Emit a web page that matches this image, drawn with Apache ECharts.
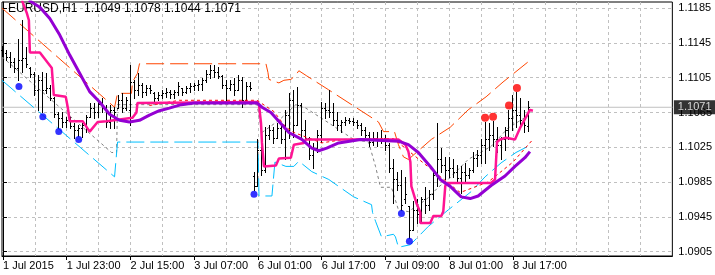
<!DOCTYPE html>
<html>
<head>
<meta charset="utf-8">
<title>EURUSD H1</title>
<script src="https://cdn.jsdelivr.net/npm/echarts@6/dist/echarts.min.js"></script>
<style>
  html, body { margin: 0; padding: 0; background: #fff; }
  #chart { width: 715px; height: 275px; }
</style>
</head>
<body>
<div id="chart"></div>
<script>
// bar data, one entry per H1 bar (index 0 = 1 Jul 07:00)
const opens = [
  1.1137,1.1133,1.1129,1.1123,1.1116,1.1125,1.1128,1.1116,1.1109,1.1091,
  1.1102,1.1091,1.1093,1.1082,1.1063,1.1059,1.1054,1.1056,1.1050,1.1045,
  1.1047,1.1051,1.1060,1.1070,1.1066,1.1075,1.1070,1.1054,1.1068,1.1070,
  1.1079,1.1070,1.1068,1.1100,1.1091,1.1097,1.1089,1.1093,1.1087,1.1082,
  1.1085,1.1087,1.1089,1.1086,1.1089,1.1093,1.1089,1.1093,1.1095,1.1097,
  1.1098,1.1102,1.1109,1.1114,1.1111,1.1107,1.1097,1.1093,1.1098,1.1091,
  1.1102,1.1079,1.1095,1.0992,1.0981,1.1022,1.0999,1.1039,1.1045,1.1036,
  1.1047,1.1034,1.1062,1.1079,1.1051,1.1074,1.1045,1.1036,1.1016,1.1024,
  1.1039,1.1070,1.1068,1.1066,1.1056,1.1051,1.1054,1.1056,1.1055,1.1054,
  1.1051,1.1045,1.1039,1.1031,1.1036,1.1034,1.1036,1.1028,1.1001,1.0988,
  1.0982,1.0965,1.0957,1.0930,1.0953,1.0948,1.0965,1.0959,1.0971,1.0993,
  1.1011,1.1005,1.0999,1.1001,1.0997,1.0990,1.0997,1.0993,1.0999,1.1013,
  1.1016,1.1028,1.1034,1.1039,1.1034,1.1028,1.1034,1.1045,1.1059,1.1068,
  1.1062,1.1056,1.1049
];
const highs = [
  1.1141,1.1137,1.1134,1.1128,1.1150,1.1171,1.1140,1.1117,1.1111,1.1108,
  1.1111,1.1110,1.1097,1.1083,1.1066,1.1065,1.1060,1.1060,1.1053,1.1051,
  1.1053,1.1062,1.1076,1.1076,1.1079,1.1082,1.1074,1.1074,1.1071,1.1085,
  1.1087,1.1083,1.1120,1.1102,1.1110,1.1099,1.1097,1.1097,1.1089,1.1089,
  1.1091,1.1093,1.1091,1.1091,1.1100,1.1093,1.1095,1.1099,1.1099,1.1102,
  1.1105,1.1114,1.1120,1.1120,1.1117,1.1108,1.1102,1.1102,1.1105,1.1108,
  1.1106,1.1100,1.1100,1.0996,1.1034,1.1034,1.1048,1.1051,1.1048,1.1053,
  1.1053,1.1068,1.1087,1.1091,1.1094,1.1076,1.1056,1.1037,1.1030,1.1045,
  1.1077,1.1076,1.1091,1.1076,1.1066,1.1056,1.1060,1.1059,1.1059,1.1056,
  1.1053,1.1048,1.1043,1.1042,1.1042,1.1045,1.1039,1.1030,1.1011,1.0997,
  1.0999,1.0991,1.0957,1.0963,1.0965,1.0968,1.0979,1.0976,1.0999,1.1053,
  1.1024,1.1014,1.1014,1.1011,1.1005,1.1003,1.1007,1.1001,1.1019,1.1022,
  1.1034,1.1054,1.1053,1.1055,1.1048,1.1037,1.1048,1.1068,1.1085,1.1089,
  1.1082,1.1068,1.1078
];
const lows = [
  1.1130,1.1125,1.1117,1.1111,1.1102,1.1111,1.1117,1.1106,1.1085,1.1068,
  1.1066,1.1087,1.1079,1.1060,1.1047,1.1048,1.1048,1.1047,1.1036,1.1038,
  1.1037,1.1043,1.1060,1.1059,1.1060,1.1066,1.1048,1.1047,1.1047,1.1070,
  1.1065,1.1068,1.1051,1.1082,1.1085,1.1083,1.1085,1.1087,1.1077,1.1079,
  1.1082,1.1083,1.1082,1.1082,1.1085,1.1085,1.1087,1.1089,1.1091,1.1091,
  1.1091,1.1100,1.1105,1.1106,1.1105,1.1093,1.1079,1.1091,1.1085,1.1091,
  1.1071,1.1079,1.1091,1.0976,1.0980,1.0993,1.0996,1.1034,1.1030,1.1036,
  1.1030,1.1011,1.1036,1.1037,1.1051,1.1037,1.1031,1.1011,1.1001,1.1019,
  1.1031,1.1059,1.1060,1.1051,1.1045,1.1043,1.1051,1.1053,1.1051,1.1047,
  1.1039,1.1037,1.1026,1.1028,1.1026,1.1030,1.1022,1.0997,1.0961,1.0976,
  1.0953,1.0961,1.0921,1.0930,1.0938,1.0940,1.0950,1.0953,1.0965,1.0980,
  1.0996,1.0988,1.0991,1.0991,1.0984,1.0973,1.0985,1.0990,1.0996,1.1003,
  1.1007,1.1007,1.1022,1.1026,1.1019,1.1011,1.1022,1.1034,1.1045,1.1048,
  1.1051,1.1042,1.1044
];
const closes = [
  1.1133,1.1129,1.1123,1.1116,1.1125,1.1128,1.1121,1.1109,1.1091,1.1102,
  1.1091,1.1093,1.1082,1.1063,1.1059,1.1054,1.1056,1.1050,1.1045,1.1047,
  1.1051,1.1060,1.1070,1.1066,1.1075,1.1070,1.1054,1.1068,1.1066,1.1079,
  1.1070,1.1079,1.1100,1.1091,1.1097,1.1089,1.1093,1.1091,1.1082,1.1085,
  1.1087,1.1089,1.1086,1.1089,1.1095,1.1089,1.1093,1.1095,1.1097,1.1098,
  1.1102,1.1109,1.1114,1.1111,1.1107,1.1097,1.1093,1.1098,1.1091,1.1102,
  1.1079,1.1095,1.1093,1.0981,1.1022,1.0999,1.1039,1.1045,1.1036,1.1047,
  1.1034,1.1062,1.1079,1.1051,1.1074,1.1045,1.1036,1.1016,1.1024,1.1039,
  1.1070,1.1068,1.1066,1.1056,1.1051,1.1054,1.1056,1.1055,1.1054,1.1051,
  1.1045,1.1039,1.1031,1.1036,1.1034,1.1036,1.1028,1.1001,1.0988,1.0982,
  1.0959,1.0971,1.0930,1.0953,1.0948,1.0965,1.0959,1.0971,1.0993,1.1011,
  1.1005,1.0999,1.1001,1.0997,1.0990,1.0997,1.0993,1.0999,1.1013,1.1016,
  1.1028,1.1034,1.1039,1.1034,1.1028,1.1034,1.1045,1.1059,1.1068,1.1062,
  1.1056,1.1051,1.1071
];

// indicator lines: [bar index, price]
const purpleLine = [[6.5,1.1194],[9.25,1.1186],[11.75,1.1173],[14.25,1.1154],[16.75,1.1131],[19.25,1.1110],
  [21.75,1.1089],[24.25,1.1077],[26.75,1.1063],[29.25,1.1056],[31.75,1.1054],[34.25,1.1056],[36.75,1.1062],
  [39.25,1.1067],[41.75,1.1070],[44.75,1.1074],[48,1.1076],[63.75,1.1076],[65,1.1071],[67.25,1.1065],
  [71.75,1.1042],[75,1.1034],[77.5,1.1024],[79.25,1.1021],[81.25,1.1024],[84.25,1.1030],[89.75,1.1034],
  [99.25,1.1032],[101.75,1.1028],[104.25,1.1019],[107.25,1.1003],[109.75,1.0988],[112.25,1.0980],[115,1.0968],
  [117.25,1.0966],[119.25,1.0969],[122.5,1.0981],[126,1.0992],[128.5,1.1003],[131,1.1013],[132.25,1.1020]];
const magentaLine = [[4.75,1.1194],[6,1.1179],[6.5,1.1171],[6.75,1.1134],[9.25,1.1134],[12.25,1.1116],
  [12.75,1.1085],[15.75,1.1083],[16.25,1.1071],[16.75,1.1055],[20,1.1055],[21.75,1.1043],[23.75,1.1054],
  [26,1.1055],[32.5,1.1059],[33.5,1.1065],[33.75,1.1076],[34.25,1.1077],[63.75,1.1077],[64.25,1.1074],
  [64.75,1.1053],[65,1.1030],[65.5,1.1003],[68.5,1.1004],[69.25,1.1012],[72.25,1.1013],[73,1.1028],
  [75.5,1.1030],[76,1.1034],[99.25,1.1034],[101,1.1028],[101.75,1.1020],[102.25,1.1008],[102.5,1.0980],
  [103.75,1.0961],[104.75,1.0950],[104.75,1.0938],[107.25,1.0938],[108,1.0946],[110,1.0946],[110.5,1.0951],
  [111,1.0980],[111.25,1.0984],[122.5,1.0984],[123.5,1.0988],[124,1.1031],[124.75,1.1034],[126.25,1.1036],
  [128.5,1.1034],[129.75,1.1047],[132.25,1.1068],[133,1.1067]];
const upperLine = [[-0.25,1.1185],[28,1.1071],[28.75,1.1087],[32.25,1.1087],[32.5,1.1100],[33.75,1.1110],
  [34.25,1.1121],[66,1.1121],[66.5,1.1111],[66.75,1.1103],[69.25,1.1099],[70.5,1.1102],[72.25,1.1103],
  [73.5,1.1108],[74.25,1.1113],[76.25,1.1107],[81.75,1.1091],[88.5,1.1071],[94.25,1.1054],[95.5,1.1043],
  [98.25,1.1043],[99.25,1.1028],[100.5,1.1014],[101.75,1.1011],[103,1.1016],[107.5,1.1034],[112.25,1.1048],
  [116.75,1.1068],[121.25,1.1083],[125.5,1.1100],[131.75,1.1123]];
const lowerLine = [[-0.25,1.1102],[28,1.0991],[28.5,1.0991],[28.75,1.1031],[64,1.1031],[64.25,1.0969],
  [67.5,1.0969],[68.25,1.1008],[71,1.1003],[73,1.1003],[74.25,1.1009],[77.5,1.0997],[81.75,1.0988],
  [88,1.0968],[92.5,1.0959],[92.75,1.0950],[93.5,1.0940],[95,1.0922],[98,1.0925],[98.5,1.0922],
  [99.25,1.0910],[102.25,1.0913],[106.75,1.0934],[111.75,1.0953],[117.5,1.0974],[121,1.0991],[125,1.1007],
  [128.75,1.1019],[131.75,1.1026]];
const grayLine = [[-0.25,1.1129],[27.25,1.1019],[28.5,1.1019],[28.75,1.1074],[63.75,1.1074],[65,1.1042],
  [69.25,1.1056],[73.5,1.1074],[76,1.1070],[81.75,1.1053],[88,1.1034],[91.75,1.1031],[93.5,1.1003],
  [94.75,1.0979],[97.5,1.0979],[99.25,1.0953],[101.75,1.0951],[106.25,1.0965],[109.25,1.0979],
  [111.75,1.0988],[116.75,1.1011],[122.5,1.1026],[126.75,1.1047],[132,1.1062]];
const redLine = [[36.75,1.1073],[44.25,1.1079],[63.75,1.1079],[68,1.1066],[71,1.1048],[73,1.1042],
  [80,1.1030],[85.5,1.1034],[98,1.1035],[109.25,1.0993],[114.75,1.0973],[121.75,1.0985],[128,1.1008],[133,1.1034]];

const downFractals = [[4,1.1095],[10,1.1060],[14,1.1043],[19,1.1034],[63,1.0971],[100,1.0949],[102,1.0917]];
const upFractals = [[121,1.1059],[123,1.1060],[127,1.1073],[129,1.1093]];

const tickLabels = ['1 Jul 2015','1 Jul 23:00','2 Jul 15:00','3 Jul 07:00','6 Jul 01:00',
  '6 Jul 17:00','7 Jul 09:00','8 Jul 01:00','8 Jul 17:00'];
const labelSlots = [0,16,32,48,64,80,96,112,128];
const gridSlots = [0,8,16,24,32,40,48,56,64,72,80,88,96,104,112,120,128,136,144,152,160];
const priceTicks = [1.0905,1.0945,1.0985,1.1025,1.1065,1.1105,1.1145,1.1185];
const lastPrice = 1.1071;
const titleText = 'EURUSD,H1  1.1049 1.1078 1.1044 1.1071';

const X_MIN = -0.25, X_MAX = 168;
const FONT = "'Liberation Sans Narrow', 'Liberation Sans', Arial, sans-serif";

const chart = echarts.init(document.getElementById('chart'), null, { renderer: 'canvas' });

// MT4 style OHLC bar: high-low stick, open tick left, close tick right
function renderBar(params, api) {
  const i = api.value(0);
  const pO = api.coord([i, api.value(1)]);
  const pH = api.coord([i, api.value(2)]);
  const pL = api.coord([i, api.value(3)]);
  const pC = api.coord([i, api.value(4)]);
  const x = Math.round(pH[0] - 0.5) + 0.5;
  const yo = Math.round(pO[1]) + 0.5;
  const yc = Math.round(pC[1]) + 0.5;
  const st = { stroke: '#000', lineWidth: 1 };
  return {
    type: 'group',
    children: [
      { type: 'line', shape: { x1: x, y1: Math.round(pH[1]), x2: x, y2: Math.round(pL[1]) + 1 }, style: st },
      { type: 'line', shape: { x1: x - 1.5, y1: yo, x2: x, y2: yo }, style: st },
      { type: 'line', shape: { x1: x, y1: yc, x2: x + 1.5, y2: yc }, style: st }
    ]
  };
}

function lineSeries(data, color, width, type, z) {
  return {
    type: 'line',
    data: data,
    showSymbol: false,
    symbol: 'none',
    silent: true,
    clip: true,
    z: z,
    lineStyle: { color: color, width: width, type: type }
  };
}

const option = {
  animation: false,
  backgroundColor: '#ffffff',
  textStyle: { fontFamily: FONT },
  title: {
    text: titleText,
    left: 8,
    top: 3,
    padding: 0,
    z: 0,
    textStyle: { fontSize: 12, fontWeight: 'normal', color: '#000', fontFamily: FONT }
  },
  grid: { left: 2, right: 40, top: 2, bottom: 19, show: true, borderColor: '#000', borderWidth: 1 },
  xAxis: [
    {
      type: 'value', min: X_MIN, max: X_MAX, position: 'bottom',
      axisLine: { show: true, lineStyle: { color: '#000' } },
      axisTick: { show: true, length: 4, customValues: labelSlots, lineStyle: { color: '#000' } },
      axisLabel: {
        customValues: labelSlots,
        formatter: v => tickLabels[labelSlots.indexOf(Math.round(v))] || '',
        align: 'left', margin: 4, fontSize: 11, color: '#000', fontFamily: FONT
      },
      splitLine: { show: false }
    },
    {
      type: 'value', min: X_MIN, max: X_MAX, position: 'bottom',
      axisLine: { show: false },
      axisTick: { show: false, customValues: gridSlots },
      axisLabel: { show: false },
      splitLine: { show: true, lineStyle: { color: '#c0c0c0', width: 1, type: [3, 3] } }
    }
  ],
  yAxis: {
    type: 'value', position: 'right', min: 1.0900, max: 1.1192,
    axisLine: { show: true, lineStyle: { color: '#000' } },
    axisTick: { show: true, length: 4, customValues: priceTicks, lineStyle: { color: '#000' } },
    axisLabel: {
      customValues: priceTicks,
      formatter: v => v.toFixed(4),
      margin: 6, fontSize: 11, color: '#000', fontFamily: FONT
    },
    splitLine: { show: true, lineStyle: { color: '#c0c0c0', width: 1, type: [3, 3] } }
  },
  series: [
    // current bid line
    lineSeries([[X_MIN, lastPrice], [X_MAX, lastPrice]], '#c0c0c0', 1, 'solid', 1),
    lineSeries(grayLine, '#808080', 1, [3, 3], 1),
    lineSeries(lowerLine, '#00bfff', 1, [18, 6], 2),
    lineSeries(upperLine, '#ff4500', 1, [18, 6], 2),
    {
      type: 'custom',
      renderItem: renderBar,
      silent: true,
      z: 3,
      encode: { x: 0, y: [1, 2, 3, 4] },
      data: opens.map((o, k) => [k, o, highs[k], lows[k], closes[k]])
    },
    lineSeries(redLine, '#ff0000', 1, [3, 3], 4),
    lineSeries(magentaLine, '#ff1493', 2.5, 'solid', 5),
    lineSeries(purpleLine, '#9400d3', 3, 'solid', 6),
    {
      type: 'scatter', data: downFractals, symbol: 'circle', symbolSize: 7, silent: true, z: 7,
      itemStyle: { color: '#0000ff' }
    },
    {
      type: 'scatter', data: upFractals, symbol: 'circle', symbolSize: 8, silent: true, z: 7,
      itemStyle: { color: '#ff0000' }
    },
    // price tag on the right scale
    {
      type: 'scatter', data: [[X_MAX, lastPrice]], symbolSize: 1, silent: true, clip: false, z: 10,
      itemStyle: { color: 'rgba(0,0,0,0)' },
      label: {
        show: true, position: 'right', distance: 1,
        formatter: lastPrice.toFixed(4),
        color: '#fff', backgroundColor: '#000',
        padding: [2, 6, 1, 4], fontSize: 11, fontFamily: FONT
      }
    }
  ]
};

chart.setOption(option);
</script>
</body>
</html>
